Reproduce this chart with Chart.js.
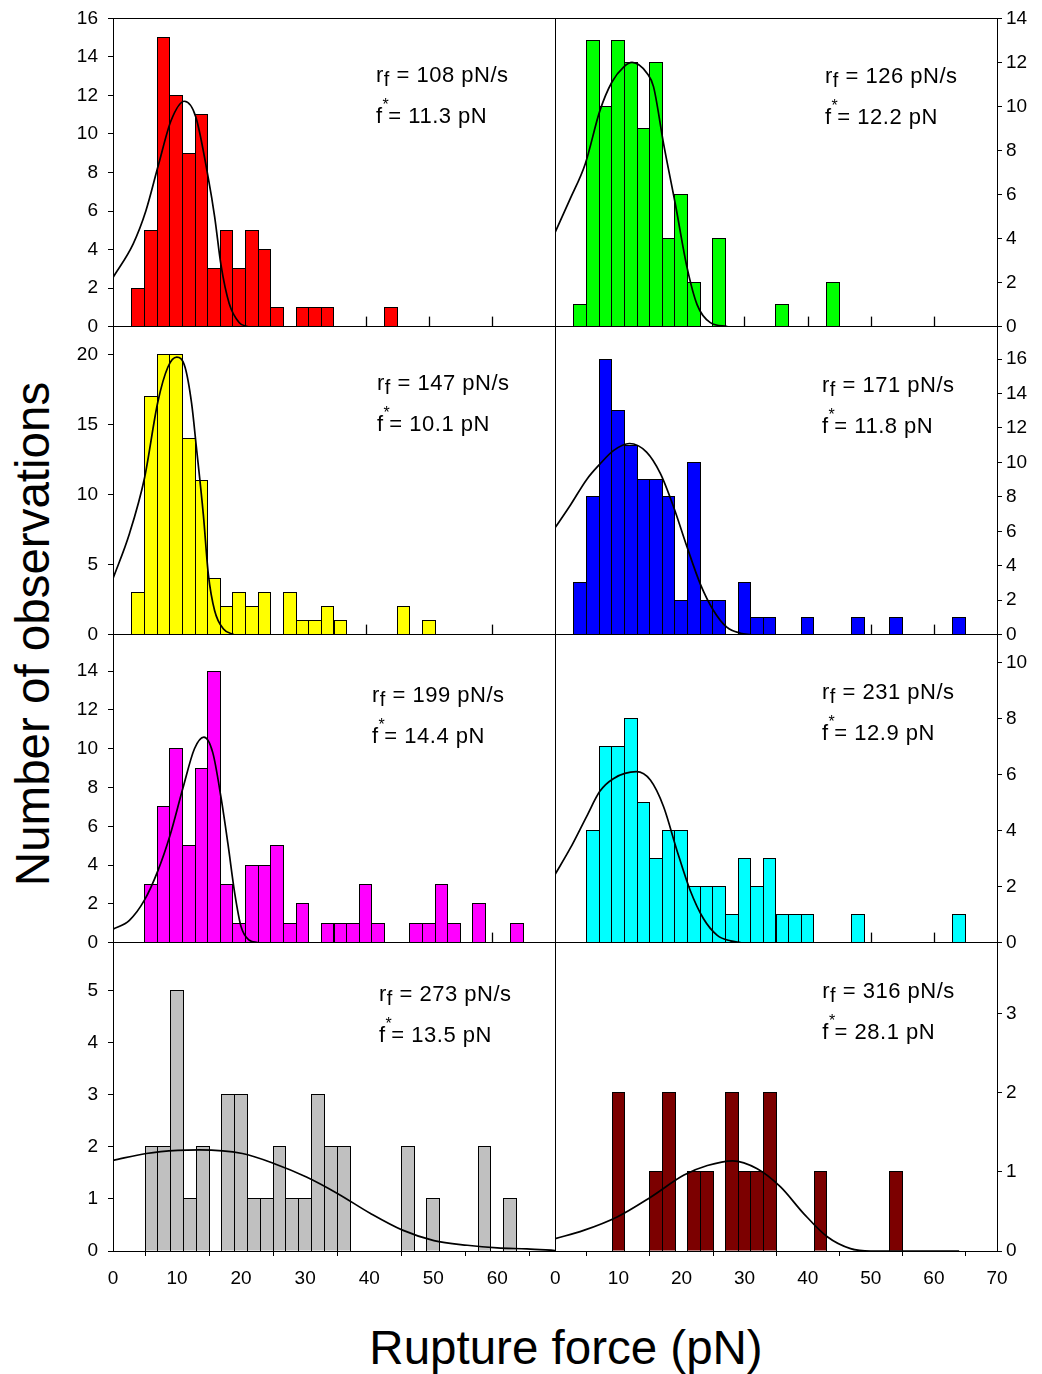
<!DOCTYPE html>
<html lang="en">
<head>
<meta charset="UTF-8">
<title>Rupture force histograms</title>
<script src="https://cdn.jsdelivr.net/npm/chart.js@4.4.1/dist/chart.umd.min.js"></script>
<style>
  body { margin: 0; width: 1042px; height: 1374px; position: relative; overflow: hidden; background: #fff;
         font-family: "Liberation Sans", Arial, sans-serif; }
  canvas { position: absolute; }
  .title { position: absolute; white-space: nowrap; font-size: 47.5px; line-height: 1; color: #000; }
  #ytitle { left: 33px; top: 634px; transform: translate(-50%, -50%) rotate(-90deg); }
  #xtitle { left: 566px; top: 1348px; transform: translate(-50%, -50%); }
</style>
</head>
<body>
<div class="title" id="ytitle">Number of observations</div>
<div class="title" id="xtitle">Rupture force (pN)</div>
<script>
// 2 pN bins, centres in pN
const binCenters = [4, 6, 8, 10, 12, 14, 16, 18, 20, 22, 24, 26, 28, 30, 32, 34, 36, 38, 40, 42, 44, 46, 48, 50, 52, 54, 56, 58, 60, 62, 64];

// counts per bin at each loading rate
const counts108 = [2, 5, 15, 12, 9, 11, 3, 5, 3, 5, 4, 1, 0, 1, 1, 1, 0, 0, 0, 0, 1, 0, 0, 0, 0, 0, 0, 0, 0, 0, 0];
const counts126 = [1, 13, 10, 13, 12, 9, 12, 4, 6, 2, 0, 4, 0, 0, 0, 0, 1, 0, 0, 0, 2, 0, 0, 0, 0, 0, 0, 0, 0, 0, 0];
const counts147 = [3, 17, 20, 20, 14, 11, 4, 2, 3, 2, 3, 0, 3, 1, 1, 2, 1, 0, 0, 0, 0, 2, 0, 1, 0, 0, 0, 0, 0, 0, 0];
const counts171 = [3, 8, 16, 13, 11, 9, 9, 8, 2, 10, 2, 2, 0, 3, 1, 1, 0, 0, 1, 0, 0, 0, 1, 0, 0, 1, 0, 0, 0, 0, 1];
const counts199 = [0, 3, 7, 10, 5, 9, 14, 3, 1, 4, 4, 5, 1, 2, 0, 1, 1, 1, 3, 1, 0, 0, 1, 1, 3, 1, 0, 2, 0, 0, 1];
const counts231 = [0, 4, 7, 7, 8, 5, 3, 4, 4, 2, 2, 2, 1, 3, 2, 3, 1, 1, 1, 0, 0, 0, 1, 0, 0, 0, 0, 0, 0, 0, 1];
const counts273 = [0, 2, 2, 5, 1, 2, 0, 3, 3, 1, 1, 2, 1, 1, 3, 2, 2, 0, 0, 0, 0, 2, 0, 1, 0, 0, 0, 2, 0, 1, 0];
const counts316 = [0, 0, 0, 2, 0, 0, 1, 2, 0, 1, 1, 0, 2, 1, 1, 2, 0, 0, 0, 1, 0, 0, 0, 0, 0, 1, 0, 0, 0, 0, 0];

// fitted distributions, sampled along force (pN)
const fit108X = [0, 3.2, 5.2, 7.2, 9.2, 11.3, 13.1, 15.1, 16.1, 17.1, 18.4, 20, 21.3];
const fit108Y = [2.55, 4.3, 6.0, 8.4, 10.7, 11.7, 10.9, 7.7, 5.7, 3.2, 1.2, 0.2, 0];
const fit126X = [0, 2.4, 4.8, 7.1, 9.0, 10.9, 12.2, 14.6, 15.6, 17.2, 19.1, 20.9, 22.5, 24.6, 27.3];
const fit126Y = [4.27, 5.8, 7.4, 9.8, 11.1, 11.8, 12.0, 11.5, 10.9, 8.3, 5.5, 2.7, 1.0, 0.18, 0];
const fit147X = [0, 2.6, 5.0, 7.1, 8.7, 10.1, 11.4, 12.45, 13.2, 14.3, 15.1, 16.1, 17.5, 19.1];
const fit147Y = [4.0, 7.2, 11.2, 16.6, 19.1, 19.8, 19.1, 16.5, 13.4, 8.6, 4.3, 1.7, 0.4, 0];
const fit171X = [0, 2.4, 5.0, 7.1, 9.3, 11.8, 14.5, 16.7, 18.8, 20.9, 23.0, 25.1, 27.2, 29.4, 31.0];
const fit171Y = [6.2, 7.5, 9.0, 9.9, 10.7, 11.1, 10.6, 9.35, 7.4, 5.1, 2.95, 1.4, 0.43, 0.08, 0];
const fit199X = [0, 2.6, 5.0, 7.1, 9.0, 11.1, 12.9, 14.4, 15.8, 17.1, 18.2, 19.3, 20.3, 21.6, 22.9];
const fit199Y = [0.69, 1.15, 2.2, 3.7, 5.5, 8.0, 10.0, 10.6, 9.8, 7.5, 5.1, 2.5, 0.8, 0.12, 0];
const fit231X = [0, 2.4, 5.0, 7.1, 9.3, 12.9, 15.1, 17.2, 19.3, 21.4, 23.5, 25.7, 27.8, 29.4];
const fit231Y = [2.43, 3.36, 4.5, 5.4, 5.86, 6.1, 5.8, 4.85, 3.3, 1.87, 0.86, 0.26, 0.06, 0];
const fit273X = [0, 5.2, 10.1, 13.5, 20.2, 25.1, 30.2, 35.1, 40.2, 45.2, 50.1, 55.3, 60, 64.6, 69];
const fit273Y = [1.74, 1.87, 1.93, 1.94, 1.87, 1.68, 1.42, 1.1, 0.72, 0.4, 0.2, 0.11, 0.06, 0.04, 0.01];
const fit316X = [0, 4.5, 9.8, 15.1, 20.4, 24.1, 28.1, 32.0, 35.7, 39.4, 43.1, 46.8, 50, 64];
const fit316Y = [0.156, 0.26, 0.43, 0.68, 0.96, 1.08, 1.14, 1.04, 0.81, 0.47, 0.18, 0.03, 0, 0];

// loading rate (pN/s) and most probable rupture force (pN) per panel
const loadingRates = [108, 126, 147, 171, 199, 231, 273, 316];
const fStars = [11.3, 12.2, 10.1, 11.8, 14.4, 12.9, 13.5, 28.1];

const allCounts = [counts108, counts126, counts147, counts171, counts199, counts231, counts273, counts316];
const allFitX = [fit108X, fit126X, fit147X, fit171X, fit199X, fit231X, fit273X, fit316X];
const allFitY = [fit108Y, fit126Y, fit147Y, fit171Y, fit199Y, fit231Y, fit273Y, fit316Y];

// axes
const yMaxes = [16, 14, 22, 17.9, 15.9, 11, 5.92, 3.9];
const yTicks = [
  [0, 2, 4, 6, 8, 10, 12, 14, 16],
  [0, 2, 4, 6, 8, 10, 12, 14],
  [0, 5, 10, 15, 20],
  [0, 2, 4, 6, 8, 10, 12, 14, 16],
  [0, 2, 4, 6, 8, 10, 12, 14],
  [0, 2, 4, 6, 8, 10],
  [0, 1, 2, 3, 4, 5],
  [0, 1, 2, 3]
];
const xTicksLeft = [0, 10, 20, 30, 40, 50, 60];
const xTicksRight = [0, 10, 20, 30, 40, 50, 60, 70];

// look
const barColors = ['#ff0000', '#00ff00', '#ffff00', '#0000ff', '#ff00ff', '#00ffff', '#c0c0c0', '#7c0000'];
const labelOffsets = [[263, 64], [270, 65], [264, 64], [267, 66], [259, 68], [267, 65], [266, 59], [267, 56]];
const colLefts = [113, 555];
const colWidths = [442, 442];
const rowTops = [18, 326, 634, 942];
const rowHeights = [308, 308, 308, 309];

const FAMILY = '"Liberation Sans", Arial, sans-serif';
Chart.defaults.font.family = FAMILY;
Chart.defaults.color = '#000';

const fixedTicks = values => scale => { scale.ticks = values.map(v => ({ value: v })); };

// black box round the plot area
const framePlugin = {
  id: 'frame',
  afterDatasetsDraw(chart) {
    const { ctx, chartArea: a } = chart;
    ctx.save();
    ctx.strokeStyle = '#000';
    ctx.lineWidth = 1;
    ctx.strokeRect(Math.round(a.left) + 0.5, Math.round(a.top) + 0.5,
      Math.round(a.right - a.left), Math.round(a.bottom - a.top));
    ctx.restore();
  }
};

// short inward ticks along the bottom edge, hidden behind the bars
const innerTicksPlugin = {
  id: 'innerTicks',
  beforeDatasetsDraw(chart, args, opts) {
    if (!opts.values) return;
    const { ctx, chartArea: a, scales } = chart;
    ctx.save();
    ctx.strokeStyle = '#000';
    ctx.lineWidth = 1.3;
    opts.values.forEach(v => {
      const x = Math.round(scales.x.getPixelForValue(v)) + 0.5;
      ctx.beginPath();
      ctx.moveTo(x, a.bottom);
      ctx.lineTo(x, a.bottom - 10);
      ctx.stroke();
    });
    ctx.restore();
  }
};

// crisp 1px outline on every histogram bar, before the fit line goes on top;
// the outline sits on the partly covered edge pixels of the fill
const barOutlinePlugin = {
  id: 'barOutline',
  afterDatasetDraw(chart, args) {
    if (args.meta.type !== 'bar') return;
    const ctx = chart.ctx;
    ctx.save();
    ctx.strokeStyle = '#000';
    ctx.lineWidth = 1;
    args.meta.data.forEach(el => {
      const { x, y, base, width } = el.getProps(['x', 'y', 'base', 'width'], true);
      const l = Math.floor(x - width / 2) + 0.5;
      const r = Math.ceil(x + width / 2) - 0.5;
      const t = Math.floor(Math.min(y, base)) + 0.5;
      const b = Math.round(Math.max(y, base)) + 0.5;
      ctx.strokeRect(l, t, r - l, b - t);
    });
    ctx.restore();
  }
};

// r_f and f* annotation
const annotatePlugin = {
  id: 'annotate',
  afterDraw(chart, args, opts) {
    const { ctx, chartArea: a } = chart;
    const x0 = a.left + opts.dx, y0 = a.top + opts.dy;
    ctx.save();
    ctx.fillStyle = '#000';
    ctx.textBaseline = 'alphabetic';
    if ('letterSpacing' in ctx) ctx.letterSpacing = '0.5px';
    ctx.font = '22px ' + FAMILY;
    ctx.fillText('r', x0, y0);
    let x = x0 + ctx.measureText('r').width;
    ctx.font = '20px ' + FAMILY;
    ctx.fillText('f', x, y0 + 4);
    x += ctx.measureText('f').width;
    ctx.font = '22px ' + FAMILY;
    ctx.fillText(' = ' + opts.rate + ' pN/s', x, y0);

    const y1 = y0 + 40.5;
    ctx.fillText('f', x0, y1);
    x = x0 + ctx.measureText('f').width;
    ctx.font = '16px ' + FAMILY;
    ctx.fillText('*', x, y1 - 13);
    x += ctx.measureText('*').width - 1;
    ctx.font = '22px ' + FAMILY;
    ctx.fillText('= ' + opts.force.toFixed(1) + ' pN', x, y1);
    ctx.restore();
  }
};

loadingRates.forEach((rate, i) => {
  const col = i % 2, row = (i - col) / 2;
  const counts = allCounts[i];
  const keep = counts.map((c, k) => k).filter(k => counts[k] > 0);
  const bars = keep.map(k => ({ x: binCenters[k], y: counts[k] }));
  const fit = allFitX[i].map((x, k) => ({ x, y: allFitY[i][k] }));
  const bottomRow = row === 3;

  const canvas = document.createElement('canvas');
  canvas.width = colWidths[col] + 70;
  canvas.height = rowHeights[row] + (bottomRow ? 70 : 20);
  document.body.appendChild(canvas);

  const xMax = (col === 0 && bottomRow) ? 69 : 70;
  const xTicks = col === 0 ? xTicksLeft : xTicksRight;

  const xScale = {
    type: 'linear',
    min: 0,
    max: xMax,
    offset: false,
    display: bottomRow,
    afterBuildTicks: fixedTicks(xTicks),
    grid: { drawOnChartArea: false, drawTicks: true, tickLength: 5, color: '#000' },
    border: { display: false },
    ticks: { font: { size: 19 }, color: '#000', padding: 11, maxRotation: 0, autoSkip: false }
  };
  if (bottomRow) xScale.afterFit = scale => { scale.height = 50; };

  const chart = new Chart(canvas, {
    type: 'bar',
    data: {
      datasets: [{
        type: 'line',
        data: fit,
        borderColor: '#000',
        borderWidth: 1.7,
        pointRadius: 0,
        fill: false,
        cubicInterpolationMode: 'monotone',
        order: 0
      }, {
        type: 'bar',
        data: bars,
        backgroundColor: barColors[i],
        borderWidth: 0,
        inflateAmount: 0,
        barPercentage: 1,
        categoryPercentage: 1,
        order: 1
      }]
    },
    options: {
      responsive: false,
      maintainAspectRatio: false,
      animation: false,
      events: [],
      layout: { padding: { left: 8, right: 8, top: 12, bottom: bottomRow ? 0 : 8 } },
      plugins: {
        legend: { display: false },
        tooltip: { enabled: false },
        innerTicks: { values: bottomRow ? null : [10, 20, 30, 40, 50, 60] },
        annotate: { dx: labelOffsets[i][0], dy: labelOffsets[i][1], rate: rate, force: fStars[i] }
      },
      scales: {
        x: xScale,
        y: {
          position: col === 0 ? 'left' : 'right',
          min: 0,
          max: yMaxes[i],
          afterBuildTicks: fixedTicks(yTicks[i]),
          afterFit: scale => { scale.width = 45; },
          grid: { drawOnChartArea: false, drawTicks: true, tickLength: 5, color: '#000' },
          border: { display: false },
          ticks: { font: { size: 19 }, color: '#000', padding: col === 0 ? 10 : 4, autoSkip: false }
        }
      }
    },
    plugins: [innerTicksPlugin, barOutlinePlugin, framePlugin, annotatePlugin]
  });

  // size the canvas so the plot area has the wanted size, then place it
  for (let pass = 0; pass < 2; pass++) {
    const a = chart.chartArea;
    const w = Math.round(a.left + colWidths[col] + (chart.width - a.right));
    const h = Math.round(a.top + rowHeights[row] + (chart.height - a.bottom));
    chart.resize(w, h);
  }
  const a = chart.chartArea;
  canvas.style.left = Math.round(colLefts[col] - a.left) + 'px';
  canvas.style.top = Math.round(rowTops[row] - a.top) + 'px';
});
</script>
</body>
</html>
